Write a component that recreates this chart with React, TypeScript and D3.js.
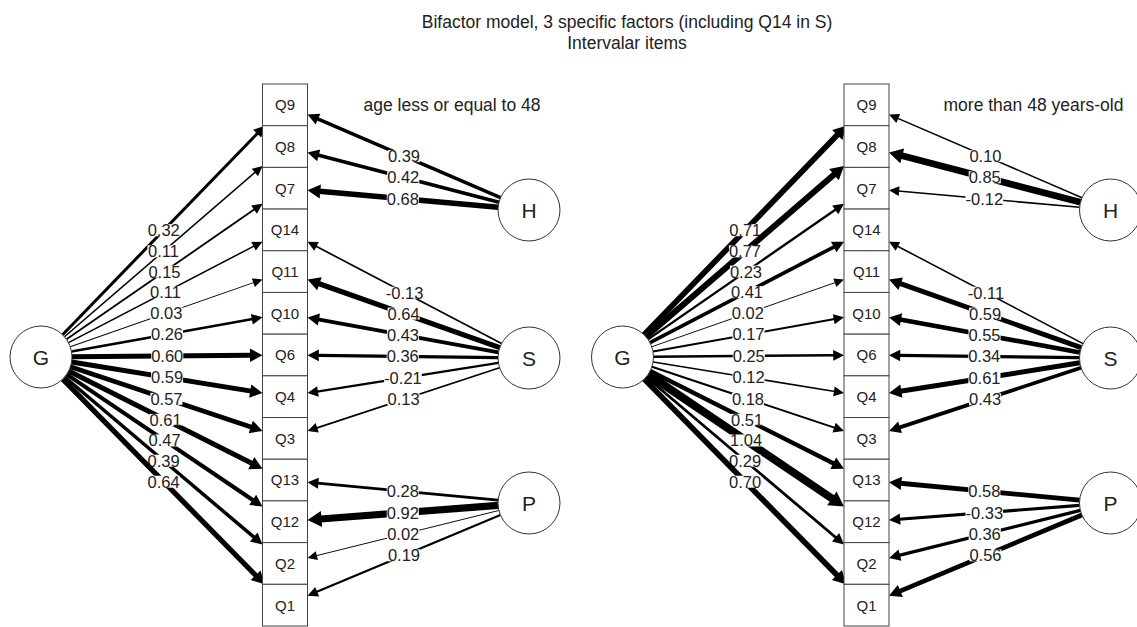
import React from "react";
import * as d3 from "d3";

// item order in the column of boxes (top to bottom)
const items = ["Q9", "Q8", "Q7", "Q14", "Q11", "Q10", "Q6", "Q4", "Q3", "Q13", "Q12", "Q2", "Q1"];

// specific factors and their items
const factors = ["H", "S", "P"];
const hItems = ["Q9", "Q8", "Q7"];
const sItems = ["Q14", "Q11", "Q10", "Q6", "Q4", "Q3"];
const pItems = ["Q13", "Q12", "Q2", "Q1"];

// age <= 48
const gYoung = [0.32, 0.11, 0.15, 0.11, 0.03, 0.26, 0.6, 0.59, 0.57, 0.61, 0.47, 0.39, 0.64];
const hYoung = [0.39, 0.42, 0.68];
const sYoung = [-0.13, 0.64, 0.43, 0.36, -0.21, 0.13];
const pYoung = [0.28, 0.92, 0.02, 0.19];

// age > 48
const gOld = [0.71, 0.77, 0.23, 0.41, 0.02, 0.17, 0.25, 0.12, 0.18, 0.51, 1.04, 0.29, 0.7];
const hOld = [0.1, 0.85, -0.12];
const sOld = [-0.11, 0.59, 0.55, 0.34, 0.61, 0.43];
const pOld = [0.58, -0.33, 0.36, 0.56];

const panelTitles = ["age less or equal to 48", "more than 48 years-old"];

const W = 1137;
const H = 627;
const FONT = "'Liberation Sans', Arial, Helvetica, sans-serif";
const R = 31; // latent circle radius
const BOX_W = 45;
const LABEL_SIZE = 16.5;

const y = d3.scaleBand<string>().domain(items).range([84, 626]).paddingInner(0);
const factorY = d3.scaleOrdinal<string, number>().domain(factors).range([210, 358, 503]);
const width = d3.scaleLinear().domain([0, 1.04]).range([0.8, 8]).clamp(true);

type Edge = { from: [number, number]; to: string; w: number };

const Arrow = ({ x1, y1, x2, y2, w, label }: any) => {
  const dx = x2 - x1;
  const dy = y2 - y1;
  const len = Math.hypot(dx, dy);
  const ux = dx / len;
  const uy = dy / len;
  const headL = 9 + w * 0.7;
  const headW = 4 + w * 0.55;
  const bx = x2 - ux * headL;
  const by = y2 - uy * headL;
  const pts = [
    [x2, y2],
    [bx - uy * headW, by + ux * headW],
    [bx + uy * headW, by - ux * headW],
  ];
  const mx = (x1 + x2) / 2;
  const my = (y1 + y2) / 2;
  const digits = label.replace(/[.\-]/g, "").length;
  const tw = (digits * 0.556 + 0.278 + (label.startsWith("-") ? 0.333 : 0)) * LABEL_SIZE;
  return (
    <g>
      <line x1={x1} y1={y1} x2={bx + ux} y2={by + uy} stroke="#000" strokeWidth={w} />
      <polygon points={pts.map((p) => p.join(",")).join(" ")} fill="#000" />
      <rect x={mx - tw / 2} y={my - 6} width={tw} height={12} fill="#fff" />
      <text x={mx} y={my} dy="0.36em" textAnchor="middle" fontSize={LABEL_SIZE} fill="#222" fontFamily={FONT}>
        {label}
      </text>
    </g>
  );
};

// point where the line toward (sx, sy) leaves the item box
const boxPoint = (cx: number, cy: number, sx: number, sy: number): [number, number] => {
  const dx = sx - cx;
  const dy = sy - cy;
  const hw = BOX_W / 2;
  const hh = y.bandwidth() / 2;
  const t = Math.min(dx === 0 ? Infinity : hw / Math.abs(dx), dy === 0 ? Infinity : hh / Math.abs(dy));
  return [cx + dx * t, cy + dy * t];
};

const Panel = ({ offset, title, g, h, s, p }: any) => {
  const gx = 41 + offset;
  const gy = 357;
  const boxX = 262.5 + offset;
  const fx = 529 + offset;
  const boxCx = boxX + BOX_W / 2;

  const edges: Edge[] = [];
  items.forEach((q, i) => edges.push({ from: [gx, gy], to: q, w: g[i] }));
  const spec: [string[], number[], string][] = [
    [hItems, h, "H"],
    [sItems, s, "S"],
    [pItems, p, "P"],
  ];
  spec.forEach(([qs, vals, f]) =>
    qs.forEach((q, i) => edges.push({ from: [fx, factorY(f)], to: q, w: vals[i] }))
  );

  return (
    <g>
      {edges.map((e, i) => {
        const cy = (y(e.to) as number) + y.bandwidth() / 2;
        const [sx, sy] = e.from;
        const d = Math.hypot(boxCx - sx, cy - sy);
        const x1 = sx + ((boxCx - sx) / d) * R;
        const y1 = sy + ((cy - sy) / d) * R;
        const [x2, y2] = boxPoint(boxCx, cy, sx, sy);
        return (
          <Arrow key={i} x1={x1} y1={y1} x2={x2} y2={y2} w={width(Math.abs(e.w))} label={e.w.toFixed(2)} />
        );
      })}
      {items.map((q) => (
        <g key={q}>
          <rect
            x={boxX}
            y={y(q)}
            width={BOX_W}
            height={y.bandwidth()}
            fill="#fff"
            stroke="#444"
            strokeWidth={1}
          />
          <text
            x={boxCx}
            y={(y(q) as number) + y.bandwidth() / 2}
            dy="0.36em"
            textAnchor="middle"
            fontSize={15}
            fill="#222"
            fontFamily={FONT}
          >
            {q}
          </text>
        </g>
      ))}
      <circle cx={gx} cy={gy} r={R} fill="#fff" stroke="#333" strokeWidth={1} />
      <text x={gx} y={gy} dy="0.36em" textAnchor="middle" fontSize={21} fill="#222" fontFamily={FONT}>
        G
      </text>
      {factors.map((f) => (
        <g key={f}>
          <circle cx={fx} cy={factorY(f)} r={R} fill="#fff" stroke="#333" strokeWidth={1} />
          <text x={fx} y={factorY(f)} dy="0.36em" textAnchor="middle" fontSize={21} fill="#222" fontFamily={FONT}>
            {f}
          </text>
        </g>
      ))}
      <text x={452 + offset} y={105} dy="0.36em" textAnchor="middle" fontSize={17.5} fill="#222" fontFamily={FONT}>
        {title}
      </text>
    </g>
  );
};

export default function App() {
  return (
    <svg width={W} height={H} style={{ display: "block", position: "absolute", left: 0, top: 0 }}>
      <rect width={W} height={H} fill="#fff" />
      <text x={627} y={22} dy="0.36em" textAnchor="middle" fontSize={17.5} fill="#222" fontFamily={FONT}>
        Bifactor model, 3 specific factors (including Q14 in S)
      </text>
      <text x={627} y={43} dy="0.36em" textAnchor="middle" fontSize={17.5} fill="#222" fontFamily={FONT}>
        Intervalar items
      </text>
      <Panel offset={0} title={panelTitles[0]} g={gYoung} h={hYoung} s={sYoung} p={pYoung} />
      <Panel offset={581.5} title={panelTitles[1]} g={gOld} h={hOld} s={sOld} p={pOld} />
    </svg>
  );
}
